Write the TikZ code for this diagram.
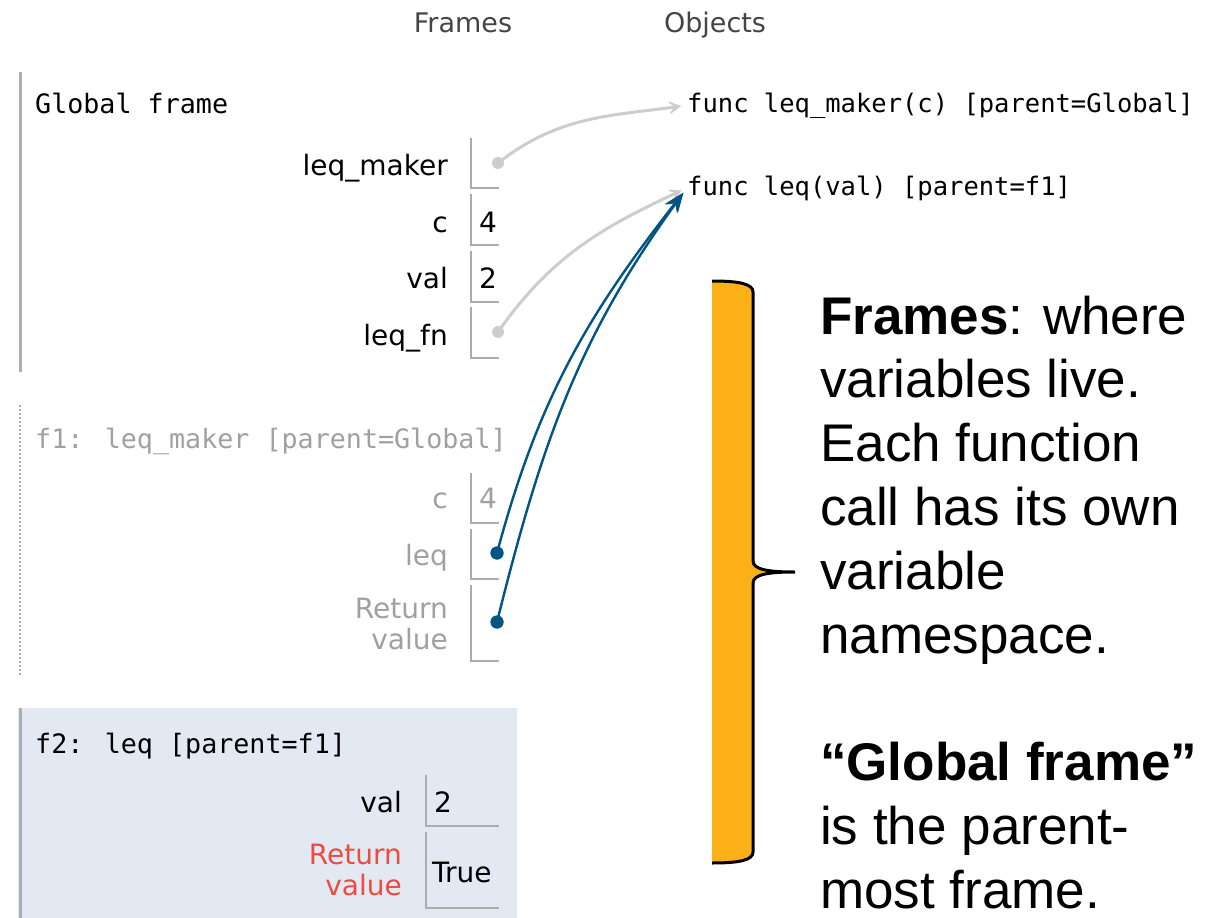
\documentclass[tikz,border=0pt]{standalone}
\usepackage{fontspec}
\setmainfont{DejaVu Sans}
\newfontfamily\monof{DejaVu Sans Mono}
\newfontfamily\arialf{Liberation Sans}
\usetikzlibrary{arrows.meta}
\definecolor{framegray}{RGB}{170,176,184}
\definecolor{boxgray}{RGB}{172,172,172}
\definecolor{fadedtxt}{RGB}{160,160,160}
\definecolor{ptblue}{RGB}{0,85,131}
\definecolor{arrgray}{RGB}{205,205,205}
\definecolor{hdrgray}{RGB}{68,68,68}
\definecolor{ftwobg}{RGB}{226,233,243}
\definecolor{retred}{RGB}{234,76,62}
\definecolor{braceorange}{RGB}{252,176,23}
\begin{document}
\begin{tikzpicture}[x=1pt,y=-1pt,
  hdr/.style={font=\fontsize{27}{32}\selectfont, text=hdrgray, inner sep=0, anchor=base},
  ftitle/.style={font=\monof\fontsize{26.7}{32}\selectfont, inner sep=0, anchor=base west},
  vname/.style={font=\fontsize{28}{31}\selectfont, inner sep=0, anchor=base east},
  vval/.style={font=\fontsize{28}{31}\selectfont, inner sep=0, anchor=base west},
  obj/.style={font=\monof\fontsize{25.5}{30}\selectfont, inner sep=0, anchor=base west},
  note/.style={font=\arialf\fontsize{53}{64}\selectfont, inner sep=0, anchor=base west},
  boxl/.style={draw=boxgray, line width=2pt},
  gdot/.style={circle, fill=arrgray, inner sep=0, minimum size=12pt},
  bdot/.style={circle, fill=ptblue, inner sep=0, minimum size=13pt},
  garrow/.style={draw=arrgray, line width=3pt, shorten >=6pt, -{Stealth[length=18pt,width=20pt,inset=12pt]}},
  barrow/.style={draw=ptblue, line width=2.4pt, shorten >=6pt, -{Stealth[length=20pt,width=15pt,inset=7pt]}},
]
\useasboundingbox (0,0) rectangle (1227,918);

% headers
\node[hdr] (hframes) at (463,32) {Frames};
\node[hdr] (hobjects) at (715,32) {Objects};

% ---------- Global frame ----------
\draw[framegray, line width=3pt] (20,72) -- (20,372);
\node[ftitle] (gtitle) at (35,113) {Global frame};

\node[vname] (g1n) at (448,175) {leq\_maker};
\draw[boxl] (471,138) -- (471,188) -- (499,188);
\node[gdot] (g1d) at (498,163) {};

\node[vname] (g2n) at (448,232) {c};
\draw[boxl] (471,194) -- (471,245) -- (499,245);
\node[vval] (g2v) at (479,232) {4};

\node[vname] (g3n) at (448,288) {val};
\draw[boxl] (471,251) -- (471,302) -- (499,302);
\node[vval] (g3v) at (479,288) {2};

\node[vname] (g4n) at (448,345) {leq\_fn};
\draw[boxl] (471,307) -- (471,358) -- (499,358);
\node[gdot] (g4d) at (498,332) {};

% ---------- f1 frame ----------
\draw[boxgray, line width=2pt, dotted] (20,405) -- (20,675);
\node[ftitle, text=fadedtxt] (f1title) at (35,448) {f1: leq\_maker [parent=Global]};

\node[vname, text=fadedtxt] (f1n1) at (448,508) {c};
\draw[boxl] (471,473) -- (471,523) -- (499,523);
\node[vval, text=fadedtxt] (f1v1) at (479,508) {4};

\node[vname, text=fadedtxt] (f1n2) at (448,565) {leq};
\draw[boxl] (471,529) -- (471,579) -- (499,579);

\node[vname, text=fadedtxt] (f1n3a) at (448,618) {Return};
\node[vname, text=fadedtxt] (f1n3b) at (448,649) {value};
\draw[boxl] (471,585) -- (471,661) -- (499,661);

% ---------- f2 frame ----------
\fill[ftwobg] (18,708) rectangle (517,918);
\draw[framegray, line width=3pt] (20,708) -- (20,918);
\node[ftitle] (f2title) at (35,753) {f2: leq [parent=f1]};

\node[vname] (f2n1) at (402,812) {val};
\draw[boxl] (426,775) -- (426,826) -- (499,826);
\node[vval] (f2v1) at (434,812) {2};

\node[vname, text=retred] (f2n2a) at (402,864) {Return};
\node[vname, text=retred] (f2n2b) at (402,895) {value};
\draw[boxl] (426,832) -- (426,908) -- (499,908);
\node[vval] (f2v2) at (432,882) {True};

% ---------- objects ----------
\node[obj] (objA) at (687,112) {func leq\_maker(c) [parent=Global]};
\node[obj] (objB) at (687,195) {func leq(val) [parent=f1]};

% gray pointers
\draw[garrow] (g1d.center) to[out=38,in=188] (objA.west);
\draw[garrow] (g4d.center) to[out=55,in=205] (objB.west);

% blue pointers
\node[bdot] (f1d2) at (497,553) {};
\node[bdot] (f1d3) at (497,622) {};
\draw[barrow] (f1d2.center) to[out=75,in=232] (objB.west);
\draw[barrow] (f1d3.center) to[out=76,in=234] (objB.west);
\node[bdot] at (f1d2) {};
\node[bdot] at (f1d3) {};

% ---------- brace ----------
\fill[braceorange] (712,281) .. controls (740,281) and (753,284) .. (753,292)
  -- (753,561) .. controls (753,570) and (770,572) .. (795,572)
  .. controls (770,572) and (753,574) .. (753,583)
  -- (753,852) .. controls (753,860) and (740,863) .. (712,863) -- cycle;
\draw[line width=3pt] (712,281) .. controls (740,281) and (753,284) .. (753,292)
  -- (753,561) .. controls (753,570) and (770,572) .. (795,572)
  .. controls (770,572) and (753,574) .. (753,583)
  -- (753,852) .. controls (753,860) and (740,863) .. (712,863);

% ---------- note text ----------
\node[note] (t1) at (820,334) {\textbf{Frames}: where};
\node[note] (t2) at (820,397.8) {variables live.};
\node[note] (t3) at (820,461.6) {Each function};
\node[note] (t4) at (820,525.4) {call has its own};
\node[note] (t5) at (820,589.2) {variable};
\node[note] (t6) at (820,653) {namespace.};
\node[note] (t7) at (820,780.6) {\textbf{“Global frame”}};
\node[note] (t8) at (820,844.4) {is the parent-};
\node[note] (t9) at (820,908.2) {most frame.};
\end{tikzpicture}
\end{document}
